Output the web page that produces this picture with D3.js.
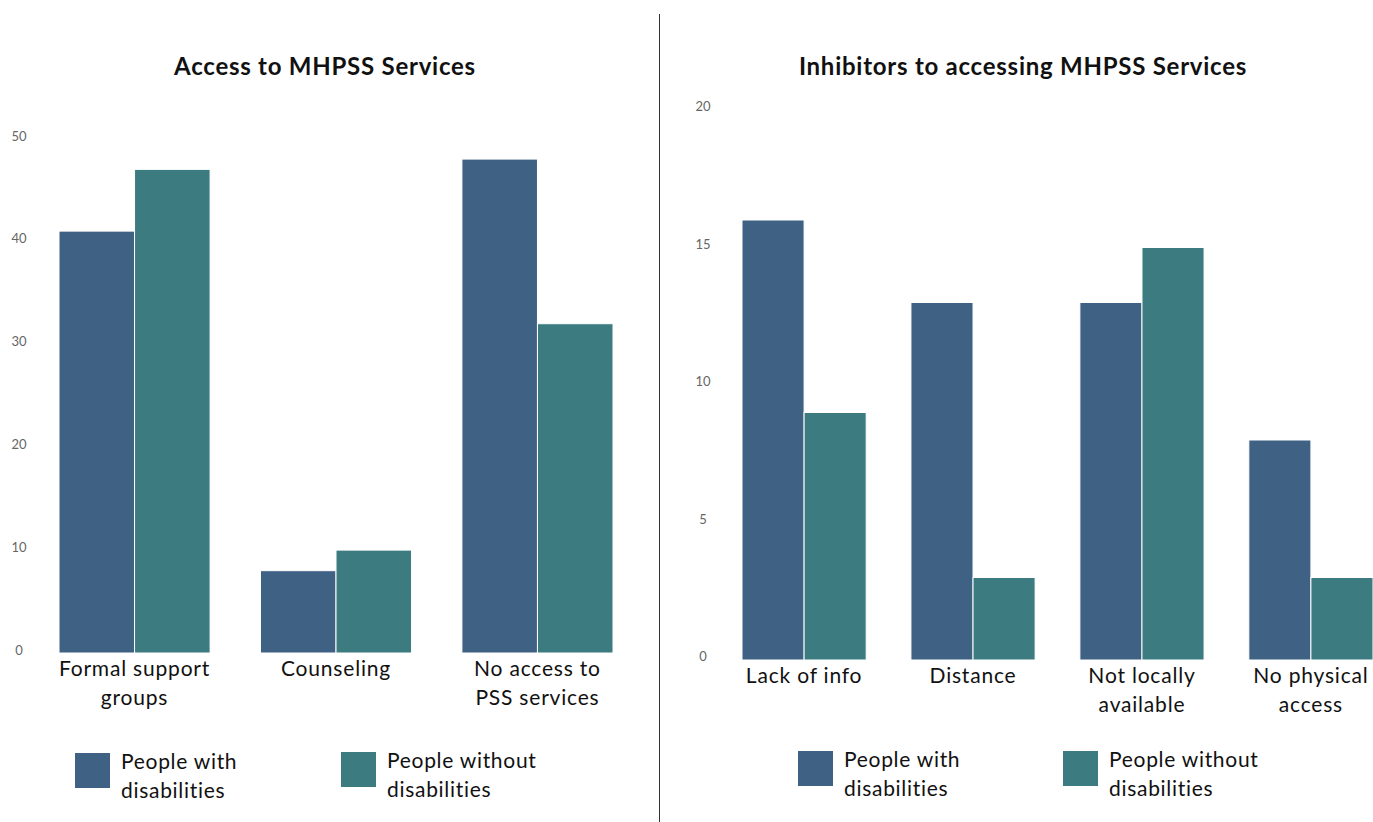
<!DOCTYPE html>
<html>
<head>
<meta charset="utf-8">
<script src="https://cdn.jsdelivr.net/npm/d3@7"></script>
<style>
  body { margin: 0; background: #fff; }
  svg { display: block; font-family: Lato, "DejaVu Sans", sans-serif; }
</style>
</head>
<body>
<svg id="chart" width="1373" height="822"></svg>
<script>
// ---- Data ----
const seriesNames = ["People with disabilities", "People without disabilities"];
const seriesKeys = ["with", "without"];

const accessCategories = [["Formal support", "groups"], ["Counseling"], ["No access to", "PSS services"]];
const accessWith = [41, 8, 48];
const accessWithout = [47, 10, 32];
const accessTicks = [0, 10, 20, 30, 40, 50];

const inhibCategories = [["Lack of info"], ["Distance"], ["Not locally", "available"], ["No physical", "access"]];
const inhibWith = [16, 13, 13, 8];
const inhibWithout = [9, 3, 15, 3];
const inhibTicks = [0, 5, 10, 15, 20];

const colors = { with: "#3f6184", without: "#3c7c80" };

const svg = d3.select("#chart");

// divider
svg.append("line").attr("x1", 659.5).attr("x2", 659.5).attr("y1", 14).attr("y2", 822)
  .attr("stroke", "#333").attr("stroke-width", 1);

function panel(opts) {
  const g = svg.append("g");
  const names = opts.categories.map(c => c.join(" "));
  const data = names.map((n, i) => ({ name: n, lines: opts.categories[i], with: opts.withVals[i], without: opts.withoutVals[i] }));

  const x0 = d3.scaleBand().domain(names).range(opts.xRange).paddingInner(opts.padInner).paddingOuter(0);
  const x1 = d3.scaleBand().domain(seriesKeys).range([0, x0.bandwidth()]).padding(0);
  const y = d3.scaleLinear().domain([0, opts.yMax]).range([opts.y0, opts.yTop]);

  // title
  g.append("text").attr("x", opts.titleX).attr("y", 75).attr("text-anchor", "middle")
    .attr("font-weight", "bold").attr("font-size", 24).attr("letter-spacing", 0.75)
    .attr("fill", "#111").text(opts.title);

  // y axis tick labels
  g.selectAll(".ytick").data(opts.ticks).join("text")
    .attr("x", opts.tickX).attr("y", d => y(d) - opts.tickShift)
    .attr("text-anchor", "middle").attr("dominant-baseline", "central")
    .attr("font-size", 13).attr("fill", "#666").text(d => d);

  // bars
  const groups = g.selectAll(".grp").data(data).join("g")
    .attr("transform", d => `translate(${x0(d.name)},0)`);
  groups.selectAll("rect").data(d => seriesKeys.map(k => ({ key: k, value: d[k] }))).join("rect")
    .attr("x", d => x1(d.key)).attr("width", x1.bandwidth())
    .attr("y", d => y(d.value)).attr("height", d => y(0) - y(d.value))
    .attr("fill", d => colors[d.key]).attr("stroke", "#fff").attr("stroke-width", 1);

  // category labels
  groups.each(function (d) {
    const t = d3.select(this).append("text").attr("x", x0.bandwidth() / 2)
      .attr("text-anchor", "middle").attr("font-size", 21).attr("letter-spacing", 0.8).attr("fill", "#111");
    d.lines.forEach((ln, i) => {
      t.append("tspan").attr("x", x0.bandwidth() / 2).attr("y", opts.y0 + 23 + i * 29).text(ln);
    });
  });

  // legend
  opts.legend.forEach((lg, i) => {
    const key = seriesKeys[i];
    g.append("rect").attr("x", lg.x).attr("y", lg.y).attr("width", 35).attr("height", 35)
      .attr("fill", colors[key]);
    const words = seriesNames[i].split(" ");
    const t = g.append("text").attr("font-size", 21).attr("letter-spacing", 0.7).attr("fill", "#111");
    t.append("tspan").attr("x", lg.x + 46).attr("y", lg.y + 16).text(words.slice(0, 2).join(" "));
    t.append("tspan").attr("x", lg.x + 46).attr("y", lg.y + 45).text(words.slice(2).join(" "));
  });
}

panel({
  title: "Access to MHPSS Services", titleX: 325,
  categories: accessCategories, withVals: accessWith, withoutVals: accessWithout,
  ticks: accessTicks, yMax: 50, y0: 653, yTop: 138.5, tickX: 19, tickShift: 3,
  xRange: [59, 613], padInner: 0.25,
  legend: [{ x: 75, y: 753 }, { x: 341, y: 752 }]
});

panel({
  title: "Inhibitors to accessing MHPSS Services", titleX: 1023,
  categories: inhibCategories, withVals: inhibWith, withoutVals: inhibWithout,
  ticks: inhibTicks, yMax: 20, y0: 660, yTop: 110, tickX: 703, tickShift: 4,
  xRange: [742, 1373], padInner: 0.265,
  legend: [{ x: 798, y: 751 }, { x: 1063, y: 751 }]
});
</script>
</body>
</html>
